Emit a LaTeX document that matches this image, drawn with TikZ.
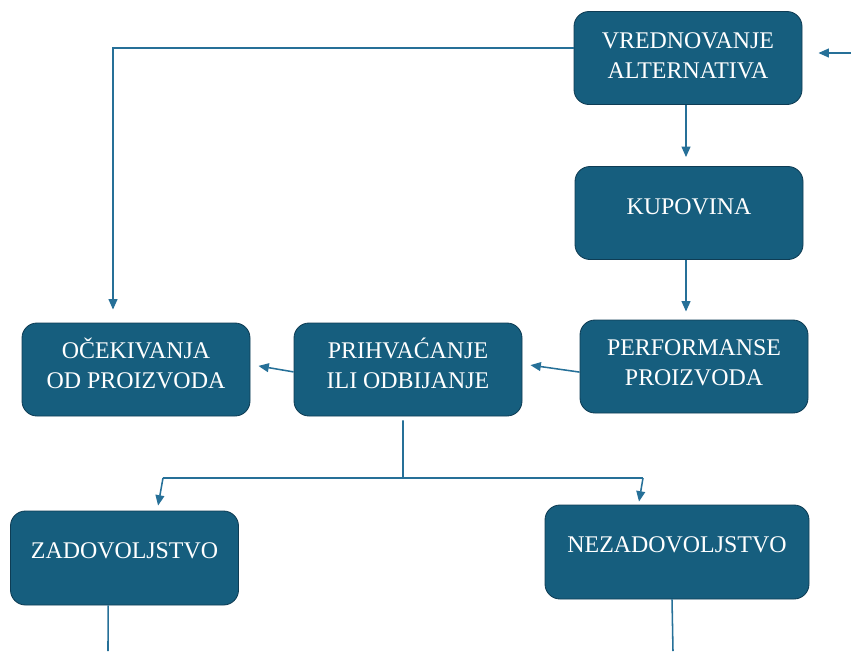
\documentclass[tikz,border=0pt]{standalone}
\usepackage{fontspec}
\setmainfont{Liberation Serif}
\usetikzlibrary{arrows.meta}
\definecolor{okvirboja}{RGB}{22,94,126}
\definecolor{okvirrub}{RGB}{14,60,84}
\definecolor{linija}{RGB}{38,112,152}

\begin{document}
\begin{tikzpicture}[auto,
    faza/.style={rectangle, rounded corners=3.75mm, draw=okvirrub, line width=0.6pt,
      fill=okvirboja, text=white, minimum width=5.7cm, minimum height=2.325cm,
      align=center, text height=4mm, font=\fontsize{17}{21.3}\selectfont},
    dvared/.style={text height=11.5mm, text depth=#1},
    veza/.style={draw=linija, line width=1.1pt, -{Triangle[length=2.6mm,width=2.2mm]}},
    spoj/.style={draw=linija, line width=1.1pt}]
   \useasboundingbox (0,0) rectangle (21.275,-16.275);
   \node[faza, dvared=1.5mm] (vred) at (17.2,-1.45) {VREDNOVANJE\\ALTERNATIVA};
   \node[faza, text depth=3.5mm] (kupovina) at (17.225,-5.325) {KUPOVINA};
   \node[faza, dvared=2.25mm] (perform) at (17.35,-9.1625) {PERFORMANSE\\PROIZVODA};
   \node[faza, dvared=2.25mm] (prihvat) at (10.2,-9.2375) {PRIHVAĆANJE\\ILI ODBIJANJE};
   \node[faza, dvared=2.25mm] (ocek) at (3.4,-9.2375) {OČEKIVANJA\\OD PROIZVODA};
   \node[faza, text depth=4mm, minimum height=2.35cm] (zadov) at (3.1125,-13.95) {ZADOVOLJSTVO};
   \node[faza, text depth=4mm, minimum width=6.6cm, minimum height=2.35cm] (nezadov) at (16.925,-13.8) {NEZADOVOLJSTVO};
   \coordinate (ulaz) at (21.275,-1.325);
   \coordinate (grana) at (10.075,-11.95);
   \coordinate (lijevo) at (4.075,-11.95);
   \coordinate (desno) at (16.075,-11.95);
   \coordinate (izlazl) at (2.7,-16.275);
   \coordinate (izlazd) at (16.825,-16.275);
   \draw[veza] (ulaz) to ([xshift=4mm,yshift=1.25mm]vred.east);
   \draw[veza] ([yshift=2.5mm]vred.west) -| ([xshift=-5.75mm,yshift=3.25mm]ocek.north);
   \draw[veza] ([xshift=-0.5mm]vred.south) to ([xshift=-0.5mm,yshift=2.25mm]vred.south |- kupovina.north);
   \draw[veza] ([xshift=-0.75mm]kupovina.south) to ([xshift=-0.75mm,yshift=2mm]kupovina.south |- perform.north);
   \draw[veza] ([yshift=-1.4mm]perform.west) to ([xshift=2mm,yshift=1.1mm]prihvat.east);
   \draw[veza] ([yshift=-0.6mm]prihvat.west) to ([xshift=2mm,yshift=0.9mm]ocek.east);
   \draw[spoj] ([xshift=-1.25mm,yshift=-1mm]prihvat.south) to (grana);
   \draw[spoj] (lijevo) to (desno);
   \draw[veza] (lijevo) to ([xshift=8.4mm,yshift=1.25mm]zadov.north);
   \draw[veza] (desno) to ([xshift=-9.5mm,yshift=0.75mm]nezadov.north);
   \draw[spoj] ([xshift=-4.1mm]zadov.south) to (izlazl);
   \draw[spoj] ([xshift=-1.25mm]nezadov.south) to (izlazd);
 \end{tikzpicture}
\end{document}
